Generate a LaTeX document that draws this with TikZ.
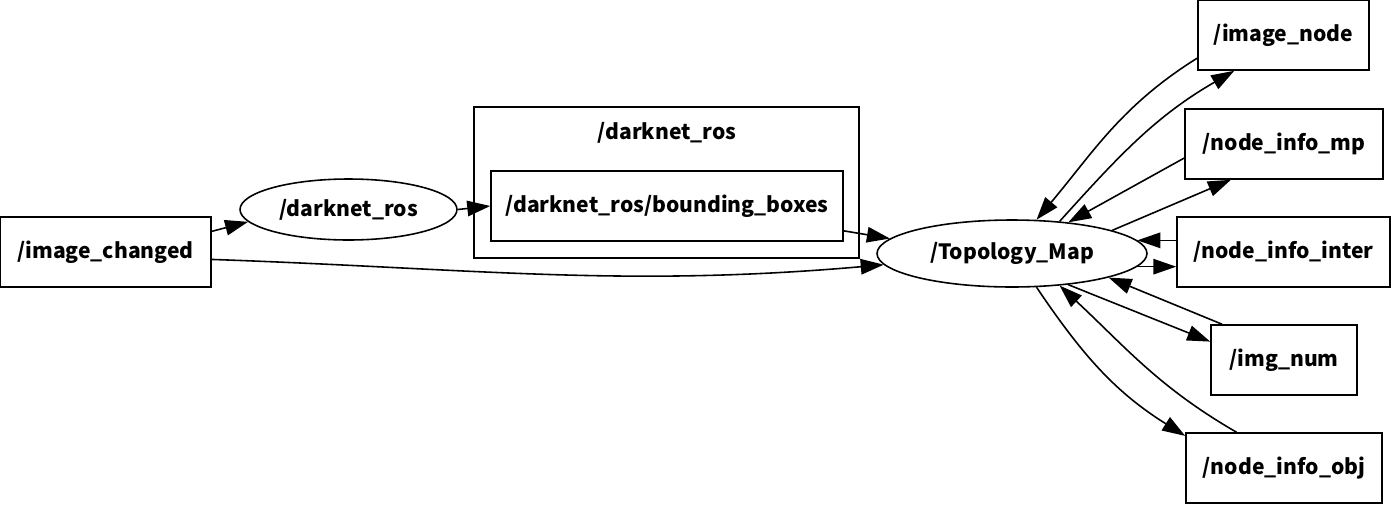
\documentclass[tikz,border=0pt]{standalone}
\usepackage{fontspec}
\setmainfont{Noto Sans CJK JP}
\usetikzlibrary{shapes.geometric,arrows.meta}
\tikzset{tbox/.style={
    rectangle,
    draw,
    line width=0.9pt,
    align=center,
    minimum height=1.4cm,
    font=\fontsize{12}{15}\selectfont\bfseries
  },
  nbox/.style={tbox,shape=ellipse,inner sep=0pt},
  cbox/.style={tbox,minimum width=7.7cm,minimum height=3.02cm},
  edge/.style={line width=0.9pt,-{Triangle[length=0.46cm,width=0.31cm]}},
}

\begin{document}
\begin{tikzpicture}[x=0.02cm,y=-0.02cm]
  \useasboundingbox (0,0) rectangle (1391,504);
  \node [cbox] (cluster) at (666.5,182.5) {};
  \node [tbox,draw=none] (clusterlbl) at (667,133) {/darknet\_ros};
  \node [tbox,minimum width=4.22cm] (changed) at (105.5,252) {/image\_changed};
  \node [nbox,minimum width=4.34cm,minimum height=1.22cm] (darknet) at (348.5,209.5) {/darknet\_ros};
  \node [tbox,minimum width=7.04cm] (bbox) at (667,206) {/darknet\_ros/bounding\_boxes};
  \node [nbox,minimum width=5.4cm,minimum height=1.34cm] (topo) at (1012,253.5) {/Topology\_Map};
  \node [tbox,minimum width=3.42cm] (imgnode) at (1283.5,35) {/image\_node};
  \node [tbox,minimum width=3.96cm] (infomp) at (1284,144) {/node\_info\_mp};
  \node [tbox,minimum width=4.26cm] (infointer) at (1283.5,252) {/node\_info\_inter};
  \node [tbox,minimum width=2.92cm] (imgnum) at (1284,360) {/img\_num};
  \node [tbox,minimum width=3.92cm] (infoobj) at (1284,468) {/node\_info\_obj};

  \draw[edge] (changed.11) -- (darknet.187);
  \draw[edge] (darknet.east) -- (bbox.west);
  \draw[edge] (changed.-4) to[out=-2,in=185] (topo.185);
  \draw[edge] (bbox.-8) -- (topo.173);
  % topology map <-> its topics
  \draw[edge] (imgnode.195) to[out=212,in=50] (topo.54);
  \draw[edge] (topo.34) to[out=48,in=210] (imgnode.216);
  \draw[edge] (infomp.188) -- (topo.29);
  \draw[edge] (topo.13) -- (infomp.214);
  \draw[edge] (infointer.west |- topo.6) -- (topo.6);
  \draw[edge] (topo.-6) -- (infointer.west |- topo.-6);
  \draw[edge] (imgnum.150) -- (topo.-14);
  \draw[edge] (topo.-29) -- (imgnum.166);
  \draw[edge] (infoobj.143) to[out=150,in=-43] (topo.-34);
  \draw[edge] (topo.-54) to[out=-56,in=148] (infoobj.162);
\end{tikzpicture}
\end{document}
